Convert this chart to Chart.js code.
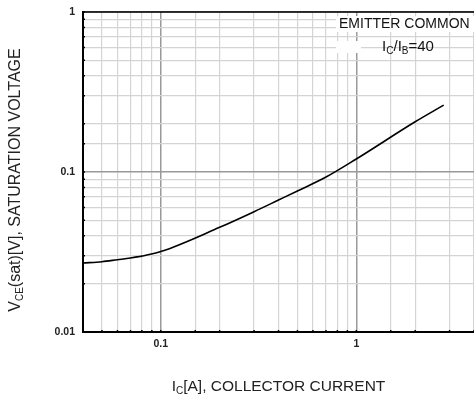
<!DOCTYPE html>
<html>
<head>
<meta charset="utf-8">
<script src="https://cdn.jsdelivr.net/npm/chart.js@4"></script>
<style>
  body { margin: 0; background: #fff; }
  #wrap { width: 474px; height: 401px; }
</style>
</head>
<body>
<div id="wrap"><canvas id="myChart"></canvas></div>
<script>
// collector current Ic [A] and saturation voltage Vce(sat) [V]
var icValues = [0.04, 0.05, 0.06, 0.07, 0.08, 0.1, 0.2, 0.3, 0.4, 0.5, 0.7, 1, 2, 2.8];
var vceValues = [0.027, 0.0275, 0.0283, 0.029, 0.0298, 0.0318, 0.0451, 0.0565, 0.0668, 0.0761, 0.093, 0.1206, 0.206, 0.262];
var xLabels = [0.1, 1];
var yLabels = [0.01, 0.1, 1];

var FONT = 'Arial, "Liberation Sans", sans-serif';

function isDecade(v) {
    var l = Math.log10(v);
    return Math.abs(l - Math.round(l)) < 1e-6;
}
function hasLabel(list, v) {
    return list.some(function (t) { return Math.abs(t - v) / t < 1e-6; });
}

// draws text with a smaller lowered part, e.g. V + CE
function drawParts(ctx, parts, x, y, align, size) {
    var subSize = Math.round(size * 0.65);
    var total = 0;
    parts.forEach(function (p) {
        ctx.font = (p.sub ? subSize : size) + 'px ' + FONT;
        p.w = ctx.measureText(p.t).width;
        total += p.w;
    });
    var cx = align === 'center' ? x - total / 2 : x;
    ctx.textAlign = 'left';
    ctx.textBaseline = 'middle';
    parts.forEach(function (p) {
        ctx.font = (p.sub ? subSize : size) + 'px ' + FONT;
        ctx.fillText(p.t, cx, p.sub ? y + size * 0.25 : y);
        cx += p.w;
    });
}

var decorations = {
    id: 'decorations',
    beforeDatasetsDraw: function (chart) {
        var ctx = chart.ctx, a = chart.chartArea;
        ctx.save();
        // small inside ticks on bottom and left axes
        ctx.strokeStyle = '#000';
        ctx.lineWidth = 1.5;
        var xs = chart.scales.x, ys = chart.scales.y;
        xs.ticks.forEach(function (t) {
            var px = xs.getPixelForValue(t.value);
            ctx.beginPath(); ctx.moveTo(px, a.bottom); ctx.lineTo(px, a.bottom - 2); ctx.stroke();
        });
        ys.ticks.forEach(function (t) {
            var py = ys.getPixelForValue(t.value);
            ctx.beginPath(); ctx.moveTo(a.left, py); ctx.lineTo(a.left + 2, py); ctx.stroke();
        });
        // top frame line
        ctx.beginPath(); ctx.moveTo(a.left, a.top); ctx.lineTo(a.right, a.top); ctx.stroke();

        // annotation
        ctx.fillStyle = '#fff';
        ctx.fillRect(336, 16, 140, 16);
        ctx.fillRect(336, 41, 25, 12);
        ctx.fillStyle = '#111';
        ctx.font = '14px ' + FONT;
        ctx.textAlign = 'left';
        ctx.textBaseline = 'middle';
        ctx.fillText('EMITTER COMMON', 339, 24);
        drawParts(ctx, [{t: 'I'}, {t: 'C', sub: true}, {t: '/I'}, {t: 'B', sub: true}, {t: '=40'}], 408, 47, 'center', 15);
        ctx.restore();
    },
    afterDraw: function (chart) {
        var ctx = chart.ctx, a = chart.chartArea;
        ctx.save();
        ctx.fillStyle = '#222';
        drawParts(ctx, [{t: 'I'}, {t: 'C', sub: true}, {t: '[A], COLLECTOR CURRENT'}], (a.left + a.right) / 2, 387, 'center', 15.5);
        ctx.translate(16, 180);
        ctx.rotate(-Math.PI / 2);
        drawParts(ctx, [{t: 'V'}, {t: 'CE', sub: true}, {t: '(sat)[V], SATURATION VOLTAGE'}], 0, 0, 'center', 16);
        ctx.restore();
    }
};

var ctx = document.getElementById('myChart').getContext('2d');
var points = icValues.map(function (x, i) { return {x: x, y: vceValues[i]}; });

new Chart(ctx, {
    type: 'line',
    data: {
        datasets: [{
            data: points,
            borderColor: '#000',
            borderWidth: 1.6,
            pointRadius: 0,
            fill: false,
            cubicInterpolationMode: 'monotone'
        }]
    },
    options: {
        responsive: true,
        maintainAspectRatio: false,
        animation: false,
        layout: { padding: { top: 12, right: 0, left: 0, bottom: 0 } },
        plugins: { legend: { display: false }, tooltip: { enabled: false } },
        scales: {
            x: {
                type: 'logarithmic',
                min: 0.04,
                max: 4,
                afterFit: function (s) { s.height = 69; s.paddingLeft = 0; s.paddingRight = 0; },
                border: { color: '#000', width: 2 },
                grid: {
                    drawTicks: false,
                    color: function (c) { return isDecade(c.tick.value) ? '#999' : '#d4d4d4'; },
                    lineWidth: function (c) { return isDecade(c.tick.value) ? 1.5 : 1.2; }
                },
                ticks: {
                    autoSkip: false,
                    maxRotation: 0,
                    padding: 6,
                    color: '#222',
                    font: { family: FONT, size: 10.5, weight: 'bold' },
                    callback: function (v) { return hasLabel(xLabels, v) ? String(v) : ''; }
                }
            },
            y: {
                type: 'logarithmic',
                min: 0.01,
                max: 1,
                afterFit: function (s) { s.width = 83; s.paddingTop = 0; s.paddingBottom = 0; },
                border: { color: '#000', width: 2 },
                grid: {
                    drawTicks: false,
                    color: function (c) { return isDecade(c.tick.value) ? '#999' : '#d4d4d4'; },
                    lineWidth: function (c) { return isDecade(c.tick.value) ? 1.5 : 1.2; }
                },
                ticks: {
                    autoSkip: false,
                    padding: 8,
                    color: '#222',
                    font: { family: FONT, size: 10.5, weight: 'bold' },
                    callback: function (v) { return hasLabel(yLabels, v) ? String(v) : ''; }
                }
            }
        }
    },
    plugins: [decorations]
});
</script>
</body>
</html>
